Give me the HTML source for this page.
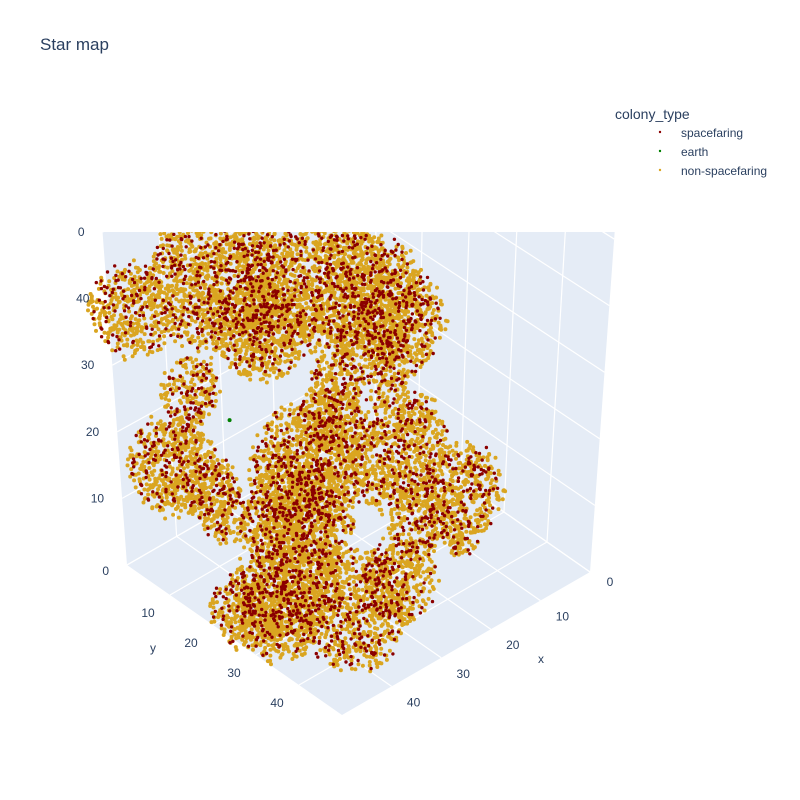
<!DOCTYPE html>
<html><head><meta charset="utf-8"><style>
body{margin:0;background:#fff;}
svg{display:block;font-family:"Liberation Sans",sans-serif;}
</style></head><body>
<svg id="chart" width="800" height="800" viewBox="0 0 800 800">
<rect width="800" height="800" fill="#fff"/>
<text x="40" y="50" font-size="17" fill="#2a3f5f">Star map</text>
<g>
<text x="615" y="119" font-size="14" fill="#2a3f5f">colony_type</text>
<g><circle cx="660" cy="132" r="1.2" fill="#8B0000"/><text x="681" y="137" font-size="12" fill="#2a3f5f">spacefaring</text></g>
<g><circle cx="660" cy="151" r="1.2" fill="#008000"/><text x="681" y="156" font-size="12" fill="#2a3f5f">earth</text></g>
<g><circle cx="660" cy="170" r="1.2" fill="#DAA520"/><text x="681" y="175" font-size="12" fill="#2a3f5f">non-spacefaring</text></g>
</g>
<defs><clipPath id="sc"><rect x="0" y="232" width="800" height="568"/></clipPath></defs>
<g id="scene" clip-path="url(#sc)"></g>
<g id="labels"></g>
</svg>
<script>
// cluster data: centre x, y, z, spread radius, point count
const clusterX = [38.9,29.2,23.8,47.5,20.5,21.6,42.1,44.3,40.5,38.9,30.2,31.3,21.1,14.0,14.0,40,45,35,28,48,27,28,18.4,34.6];
const clusterY = [11.1,20.8,26.2,2.5,29.5,28.4,7.9,5.7,9.5,11.1,19.8,18.7,28.9,36.0,36.0,27,30,36,38,25,23,22,31.6,15.4];
const clusterZ = [43.0,44.0,40.3,38.3,37.4,31.4,26.4,15.1,11.5,7.7,14.7,7.2,17.9,12.0,4.5,5.6,3.9,3.0,5.4,3.6,28.3,22.2,7.4,35.6];
const clusterR = [10,11,8.5,6.5,6.5,4.5,4.5,7,4.5,4,9,8.5,8.5,6.5,2.6,8.5,6.5,8.5,6,5.2,4.5,5,5,7];
const clusterN = [1300,1400,800,450,450,220,220,600,220,160,1000,900,850,450,90,750,500,750,360,300,220,250,250,600];
const earthPoint = [38.3,11.7,22.0];
const ticks = [0,10,20,30,40,50];
const NS='http://www.w3.org/2000/svg';
function P(x,y,z){
  const bx=375-4.96*x+4.3*y, by=422+2.86*x+3.0*y-6.66*z;
  return [360+(bx-360)*(1+0.0021*z), by];
}
const scene=document.getElementById('scene'), labels=document.getElementById('labels');
function mk(tag,a,parent){const e=document.createElementNS(NS,tag);for(const k in a)e.setAttribute(k,a[k]);parent.appendChild(e);return e;}
function poly(pts,fill,name){const e=mk('polygon',{points:pts.map(p=>p.join(',')).join(' '),fill:fill},scene);

}
function line(a,b,name){const e=mk('line',{x1:a[0],y1:a[1],x2:b[0],y2:b[1],stroke:'#fff','stroke-width':1.2},scene);

}
const M=50,ZT=80;
poly([P(0,0,0),P(M,0,0),P(M,0,ZT),P(0,0,ZT)],'#e5ecf6','back-left-wall');
poly([P(0,0,0),P(0,M,0),P(0,M,ZT),P(0,0,ZT)],'#e5ecf6','back-right-wall');
poly([P(0,0,0),P(M,0,0),P(M,M,0),P(0,M,0)],'#e5ecf6','floor');
for(const t of ticks){
  if(t<M){line(P(t,0,0),P(t,0,ZT),'x-grid-wall');line(P(0,t,0),P(0,t,ZT),'y-grid-wall');
  line(P(t,0,0),P(t,M,0),'x-grid-floor');line(P(0,t,0),P(M,t,0),'y-grid-floor');}
  line(P(0,0,t),P(M,0,t),'z-grid-left');line(P(0,0,t),P(0,M,t),'z-grid-right');
}
for(let t=0;t<=60;t+=10){line(P(0,0,t+50),P(M,0,t+50),'z-grid-left');line(P(0,0,t+50),P(0,M,t+50),'z-grid-right');}
function lab(p,s,name,anchor){const e=mk('text',{x:p[0],y:p[1],'font-size':12,fill:'#2a3f5f','text-anchor':anchor||'middle'},labels);e.textContent=s;

}
for(const t of ticks){
  const z=P(M,0,t);lab([z[0]-18,z[1]+(t===0?10:4)],t===50?'0':String(t),'z-tick-label','end');
  if(t>0&&t<M){const y=P(M,t,0);lab([y[0]-22,y[1]+22],String(t),'y-tick-label');
  const x=P(t,M,0);lab([x[0]+22,x[1]+20],String(t),'x-tick-label');}
}
lab([P(0,M,0)[0]+20,P(0,M,0)[1]+14],'0','x-tick-label');
lab([153,652],'y','y-axis-title');lab([541,663],'x','x-axis-title');
let seed=12345;function rnd(){seed=(seed*1103515245+12345)%2147483648;return seed/2147483648;}
const g=mk('g',{},scene);


const pts=[];
for(let i=0;i<clusterX.length;i++){
  for(let k=0;k<clusterN[i];k++){
    let dx,dy,dz;do{dx=rnd()*2-1;dy=rnd()*2-1;dz=rnd()*2-1;}while(dx*dx+dy*dy+dz*dz>1);
    const r=clusterR[i];
    pts.push([clusterX[i]+dx*r,clusterY[i]+dy*r,clusterZ[i]+dz*r,rnd()<0.22]);
  }
}
pts.sort((a,b)=>(a[0]+a[1])-(b[0]+b[1]));
let d1='',d2='';
for(const p of pts){const s=P(p[0],p[1],p[2]);const c=`M${s[0].toFixed(1)} ${s[1].toFixed(1)}h0`;if(p[3])d1+=c;else d2+=c;}
const a=mk('path',{d:d2,stroke:'#DAA520','stroke-width':4,'stroke-linecap':'round',fill:'none'},g);


const b=mk('path',{d:d1,stroke:'#8B0000','stroke-width':3.4,'stroke-linecap':'round',fill:'none'},g);


const e=P(earthPoint[0],earthPoint[1],earthPoint[2]);
const ep=mk('circle',{cx:e[0],cy:e[1],r:2,fill:'#008000'},g);


</script>
</body></html>
